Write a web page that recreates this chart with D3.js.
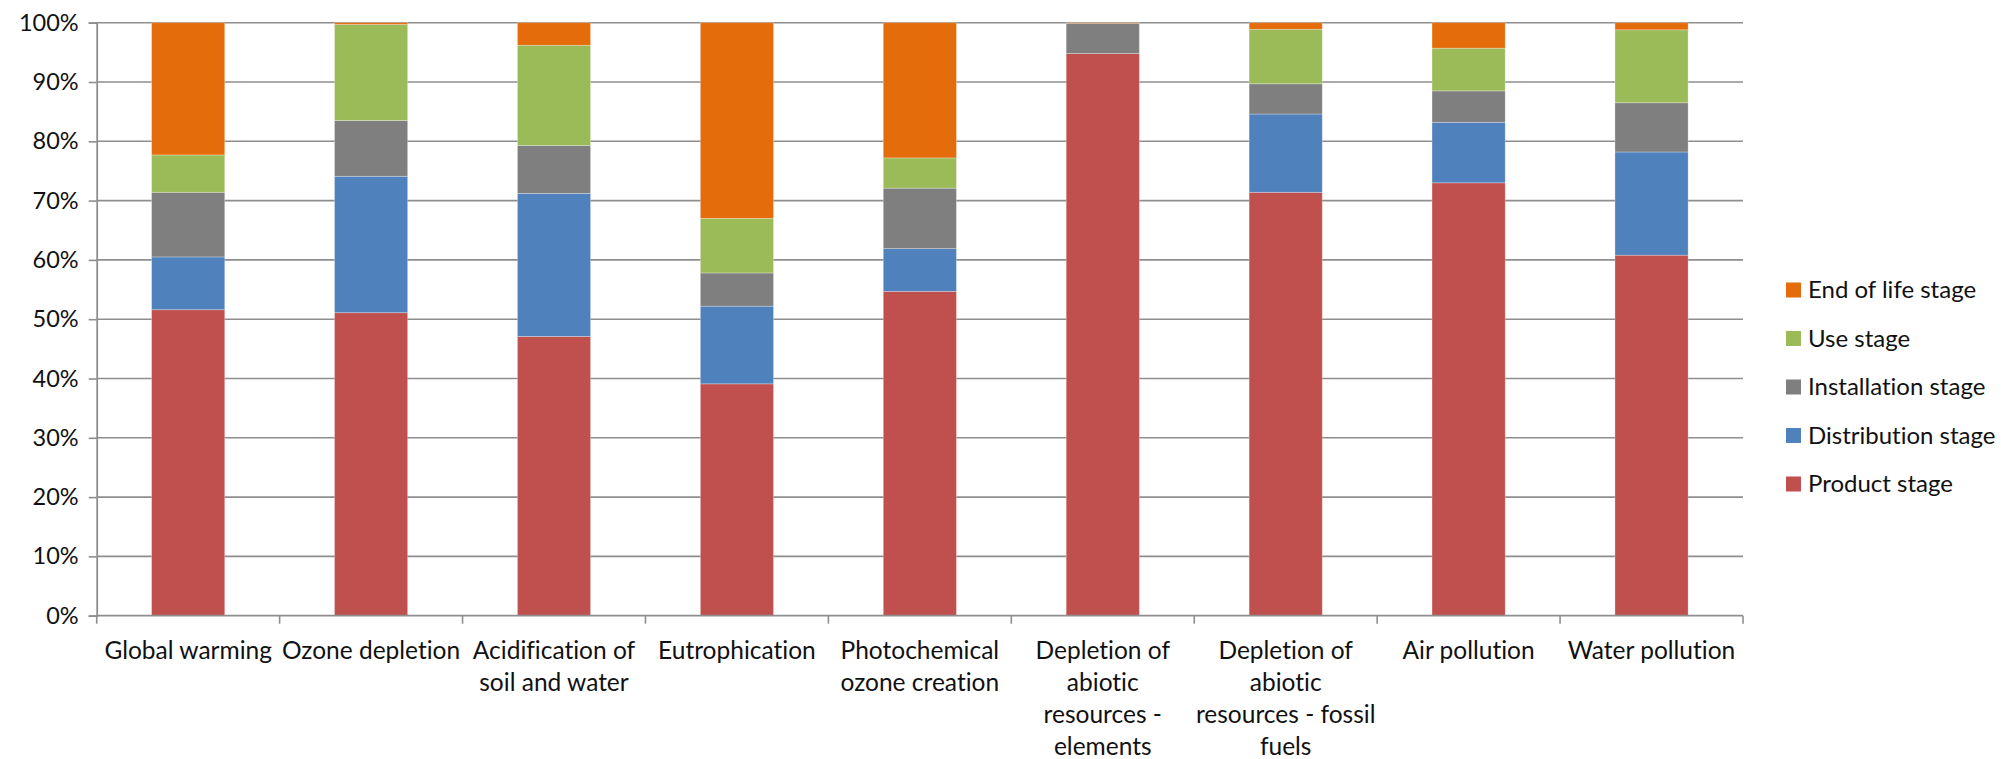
<!DOCTYPE html>
<html>
<head>
<meta charset="utf-8">
<script src="https://cdn.jsdelivr.net/npm/d3@7"></script>
<style>
  html, body { margin: 0; padding: 0; background: #fff; }
  svg { display: block; font-family: Lato, "Open Sans", sans-serif; font-variant-ligatures: none; }
</style>
</head>
<body>
<svg id="chart" width="2001" height="759"></svg>
<script>
// Impact categories (x axis), each label split into its wrapped lines
const categories = [
  "Global warming", "Ozone depletion", "Acidification of soil and water",
  "Eutrophication", "Photochemical ozone creation",
  "Depletion of abiotic resources - elements",
  "Depletion of abiotic resources - fossil fuels",
  "Air pollution", "Water pollution"
];
const categoryLines = [
  ["Global warming"],
  ["Ozone depletion"],
  ["Acidification of", "soil and water"],
  ["Eutrophication"],
  ["Photochemical", "ozone creation"],
  ["Depletion of", "abiotic", "resources -", "elements"],
  ["Depletion of", "abiotic", "resources - fossil", "fuels"],
  ["Air pollution"],
  ["Water pollution"]
];

// Life-cycle stage shares (%) per category
const productStage      = [51.6, 51.1, 47.1, 39.1, 54.7, 94.8, 71.4, 73.0, 60.8];
const distributionStage = [ 8.9, 23.0, 24.1, 13.1,  7.2,  0.0, 13.2, 10.2, 17.4];
const installationStage = [10.9,  9.4,  8.1,  5.6, 10.2,  5.1,  5.1,  5.3,  8.3];
const useStage          = [ 6.3, 16.2, 16.9,  9.2,  5.1,  0.0,  9.2,  7.2, 12.3];
const endOfLifeStage    = [22.3,  0.3,  3.8, 33.0, 22.8,  0.1,  1.1,  4.3,  1.2];

// Series in stacking order (bottom to top)
const seriesNames  = ["Product stage", "Distribution stage", "Installation stage", "Use stage", "End of life stage"];
const seriesValues = [productStage, distributionStage, installationStage, useStage, endOfLifeStage];
const seriesColors = ["#C0504D", "#4F81BD", "#7F7F7F", "#9BBB59", "#E46C0A"];

const yTicks = [0, 0.1, 0.2, 0.3, 0.4, 0.5, 0.6, 0.7, 0.8, 0.9, 1.0];

// Build table rows for d3.stack
const rows = categories.map((c, i) => {
  const r = { category: c };
  seriesNames.forEach((s, j) => { r[s] = seriesValues[j][i]; });
  return r;
});

const svg = d3.select("#chart");
const plot = { left: 96.7, right: 1743, top: 22.7, bottom: 615.7 };
const gridColor = "#8E8E8E";
const textColor = "#111";

const x = d3.scaleBand()
  .domain(categories)
  .range([plot.left, plot.right])
  .paddingInner(0.6)
  .paddingOuter(0.3);

const y = d3.scaleLinear().domain([0, 1]).range([plot.bottom, plot.top]);

// 100% stacked layout
const stacked = d3.stack()
  .keys(seriesNames)
  .offset(d3.stackOffsetExpand)(rows);

// Horizontal gridlines
svg.append("g")
  .selectAll("line")
  .data(yTicks.slice(1))
  .join("line")
  .attr("x1", plot.left).attr("x2", plot.right)
  .attr("y1", d => y(d)).attr("y2", d => y(d))
  .attr("stroke", gridColor)
  .attr("stroke-width", 1.6);

// Stacked bars
svg.append("g")
  .selectAll("g")
  .data(stacked)
  .join("g")
  .attr("fill", (d, i) => seriesColors[i])
  .selectAll("rect")
  .data(d => d)
  .join("rect")
  .attr("x", d => x(d.data.category))
  .attr("width", x.bandwidth())
  .attr("y", d => y(d[1]))
  .attr("height", d => Math.max(0, y(d[0]) - y(d[1])))
  .attr("stroke", "rgba(255,255,255,0.35)")
  .attr("stroke-width", 0.8);

// Y axis
const yAxis = d3.axisLeft(y)
  .tickValues(yTicks)
  .tickFormat(d3.format(".0%"))
  .tickSize(8)
  .tickPadding(10);

const gy = svg.append("g")
  .attr("transform", `translate(${plot.left},0)`)
  .call(yAxis);
gy.select(".domain").attr("stroke", gridColor).attr("stroke-width", 1.8);
gy.selectAll(".tick line").attr("stroke", gridColor).attr("stroke-width", 1.6);
gy.selectAll(".tick text")
  .attr("font-size", 23.5)
  .attr("font-family", "Lato, sans-serif")
  .attr("fill", textColor);

// X axis baseline with ticks at category boundaries
const gx = svg.append("g");
gx.append("line")
  .attr("x1", plot.left).attr("x2", plot.right)
  .attr("y1", plot.bottom).attr("y2", plot.bottom)
  .attr("stroke", gridColor).attr("stroke-width", 1.8);
const halfGap = (x.step() - x.bandwidth()) / 2;
const boundaries = categories.map(c => x(c) - halfGap).concat([plot.right]);
gx.selectAll("line.tick")
  .data(boundaries)
  .join("line")
  .attr("class", "tick")
  .attr("x1", d => d).attr("x2", d => d)
  .attr("y1", plot.bottom).attr("y2", plot.bottom + 8)
  .attr("stroke", gridColor).attr("stroke-width", 1.6);

// Category labels (wrapped)
const lineHeight = 32;
gx.selectAll("text.cat")
  .data(categories)
  .join("text")
  .attr("class", "cat")
  .attr("text-anchor", "middle")
  .attr("font-size", 24.5)
  .attr("fill", textColor)
  .each(function (c, i) {
    const t = d3.select(this);
    const cx = x(c) + x.bandwidth() / 2;
    categoryLines[i].forEach((ln, k) => {
      t.append("tspan")
        .attr("x", cx)
        .attr("y", 659 + k * lineHeight)
        .text(ln);
    });
  });

// Legend (top entry is the last series)
const legend = svg.append("g").attr("transform", "translate(1786,290)");
const legendOrder = seriesNames.map((s, i) => i).reverse();
const item = legend.selectAll("g")
  .data(legendOrder)
  .join("g")
  .attr("transform", (d, k) => `translate(0,${k * 48.5})`);
item.append("rect")
  .attr("x", 0).attr("y", -7.5)
  .attr("width", 15).attr("height", 15)
  .attr("fill", d => seriesColors[d]);
item.append("text")
  .attr("x", 22).attr("y", 0)
  .attr("dy", "0.35em")
  .attr("font-size", 24)
  .attr("fill", textColor)
  .text(d => seriesNames[d]);
</script>
</body>
</html>
